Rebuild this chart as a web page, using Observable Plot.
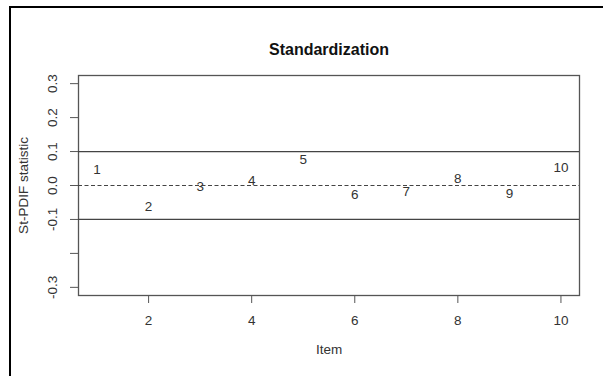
<!DOCTYPE html>
<html>
<head>
<meta charset="utf-8">
<script src="https://cdn.jsdelivr.net/npm/d3@7"></script>
<script src="https://cdn.jsdelivr.net/npm/@observablehq/plot@0.6"></script>
<style>
  html, body { margin: 0; padding: 0; background: #fff; }
  #wrap { position: relative; width: 603px; height: 376px; overflow: hidden; }
  #edge { position: absolute; left: 9px; top: 6px; right: -10px; bottom: -10px;
          border-left: 2px solid #000; border-top: 2px solid #000; pointer-events: none; }
  svg { display: block; }
</style>
</head>
<body>
<div id="wrap"><div id="edge"></div></div>
<script>
const items = [1, 2, 3, 4, 5, 6, 7, 8, 9, 10];
const stat = [0.047, -0.061, -0.004, 0.013, 0.076, -0.027, -0.019, 0.021, -0.023, 0.052];
const yTicks = [-0.3, -0.2, -0.1, 0, 0.1, 0.2, 0.3];
const yTickLabels = ["-0.3", "", "-0.1", "0.0", "0.1", "0.2", "0.3"];
const xTicks = [2, 4, 6, 8, 10];
const limits = [-0.1, 0.1];
const title = "Standardization";
const xLabel = "Item";
const yLabel = "St-PDIF statistic";

const data = items.map((d, i) => ({item: d, value: stat[i]}));
const yLab = yTicks.map((v, i) => ({v, label: yTickLabels[i]}));
const font = "Liberation Sans, Arial, Helvetica, sans-serif";
const ink = "#333";
const fs = 13.5;

const chart = Plot.plot({
  width: 603,
  height: 376,
  marginLeft: 78,
  marginRight: 24,
  marginTop: 75,
  marginBottom: 81,
  style: {fontFamily: font, fontSize: fs + "px", color: ink, background: "transparent"},
  x: {domain: [0.64, 10.36]},
  y: {domain: [-0.324, 0.324]},
  marks: [
    Plot.frame({stroke: "#555", strokeWidth: 1.3}),
    Plot.ruleY(limits, {stroke: "#444", strokeWidth: 1.3}),
    Plot.ruleY([0], {stroke: "#444", strokeWidth: 1.2, strokeDasharray: "4,2.5"}),
    Plot.axisX({ticks: xTicks, tickSize: 8, tickPadding: 12, fontSize: fs, stroke: "#555", label: null, tickFormat: d => String(d)}),
    Plot.axisY({ticks: yTicks, tickSize: 8, tickFormat: () => "", stroke: "#555", label: null}),
    Plot.text(yLab, {y: "v", text: "label", frameAnchor: "left", textAnchor: "middle", dx: -26, rotate: -90, fontSize: fs, fill: ink}),
    Plot.text(data, {x: "item", y: "value", text: d => String(d.item), fontSize: fs, fill: ink}),
    Plot.text([title], {frameAnchor: "top", dy: -32, fontSize: 16, fontWeight: "bold", fill: "#111"}),
    Plot.text([xLabel], {frameAnchor: "bottom", dy: 58, fontSize: fs, fill: ink}),
    Plot.text([yLabel], {frameAnchor: "left", textAnchor: "middle", dx: -55, rotate: -90, fontSize: fs, fill: ink})
  ]
});
document.getElementById("wrap").prepend(chart);
</script>
</body>
</html>
